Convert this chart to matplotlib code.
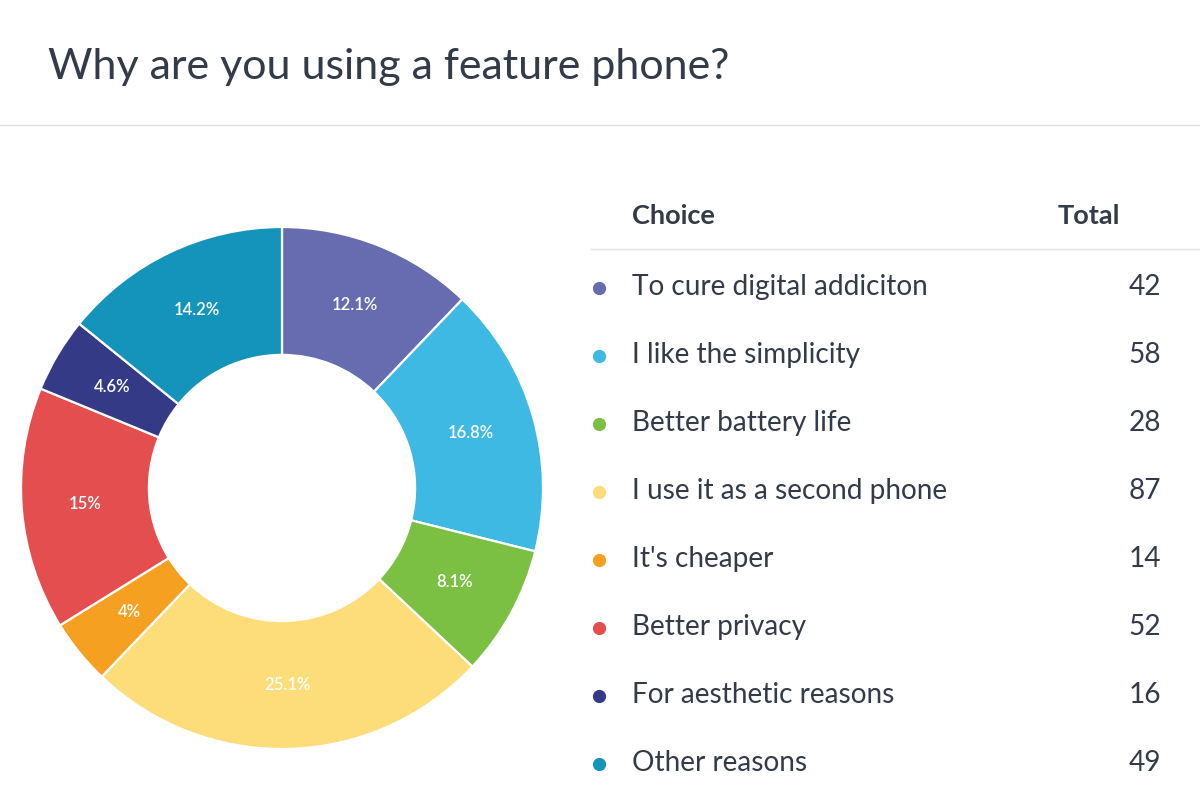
import matplotlib
matplotlib.use("Agg")
import matplotlib.pyplot as plt
from matplotlib.lines import Line2D

plt.rcParams['font.family'] = ['Lato', 'DejaVu Sans']

# Survey data
choices = ["To cure digital addiciton", "I like the simplicity", "Better battery life",
           "I use it as a second phone", "It's cheaper", "Better privacy",
           "For aesthetic reasons", "Other reasons"]
totals = [42, 58, 28, 87, 14, 52, 16, 49]
colors = ["#676bb0", "#3db9e3", "#7bc043", "#fddc7a", "#f5a021", "#e54e4f", "#353a86", "#1594bb"]

text_color = "#333a48"
W, H = 1200, 800

fig = plt.figure(figsize=(12, 8), dpi=100)
fig.patch.set_facecolor("white")


def fx(px):
    return px / W


def fy(py):
    return 1 - py / H


# title and separator
fig.text(fx(48), fy(67), "Why are you using a feature phone?", fontsize=31,
         color=text_color, va="center", ha="left")
fig.add_artist(Line2D([0, 1], [fy(125), fy(125)], color="#e3e3e3", lw=1))

# donut
cx, cy, r = 282, 488, 261
ax = fig.add_axes([fx(cx - r), fy(cy + r), 2 * r / W, 2 * r / H])


def pct_fmt(p):
    s = f"{p:.1f}"
    if s.endswith(".0"):
        s = s[:-2]
    return s + "%"


wedges, texts, autotexts = ax.pie(
    totals, colors=colors, startangle=90, counterclock=False, radius=1,
    wedgeprops=dict(width=0.49, edgecolor="white", linewidth=1.6),
    autopct=pct_fmt, pctdistance=0.755,
    textprops=dict(color="white", fontsize=12, fontweight="semibold"))
ax.set_xlim(-1, 1)
ax.set_ylim(-1, 1)
ax.set_aspect("equal")
ax.axis("off")

# table header
fig.text(fx(632), fy(216), "Choice", fontsize=19.5, fontweight="bold",
         color=text_color, va="center", ha="left")
fig.text(fx(1120), fy(216), "Total", fontsize=19.5, fontweight="bold",
         color=text_color, va="center", ha="right")
fig.add_artist(Line2D([fx(591), 1], [fy(249), fy(249)], color="#e3e3e3", lw=1))

# table rows
for i, (name, val, col) in enumerate(zip(choices, totals, colors)):
    y = 287 + i * 68
    fig.add_artist(Line2D([fx(599)], [fy(y + 1)], marker="o", markersize=8.5,
                          color=col, lw=0))
    fig.text(fx(632), fy(y), name, fontsize=20.2, color=text_color,
             va="center", ha="left")
    fig.text(fx(1161), fy(y), str(val), fontsize=20.2, color=text_color,
             va="center", ha="right")

fig.savefig("out.png", dpi=100, facecolor="white")
